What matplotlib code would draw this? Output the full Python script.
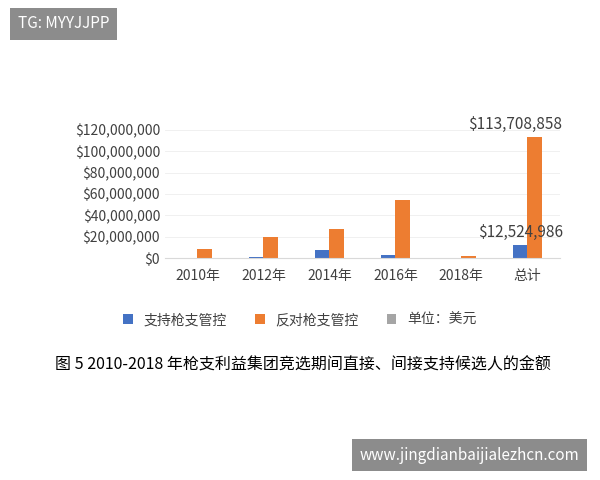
import matplotlib.pyplot as plt
import numpy as np
from matplotlib.ticker import FuncFormatter

plt.rcParams['font.family'] = ['Noto Sans CJK SC', 'DejaVu Sans']

categories = ["2010年", "2012年", "2014年", "2016年", "2018年", "总计"]
support = [100000, 600000, 7500000, 3000000, 100000, 12524986]
oppose = [8500000, 20000000, 27500000, 54000000, 1500000, 113708858]

fig = plt.figure(figsize=(6, 4.8), dpi=100)
ax = fig.add_axes([0.275, 0.4625, 0.658, 0.267])
x = np.arange(len(categories))
w = 0.22
ax.bar(x - w / 2, support, w, color="#4472C4", label="支持枪支管控")
ax.bar(x + w / 2, oppose, w, color="#ED7D31", label="反对枪支管控")
ax.bar([0], [0], w, color="#A5A5A5", label="单位：美元")
ax.set_ylim(0, 120000000)
ax.set_yticks(np.arange(0, 120000001, 20000000))
ax.yaxis.set_major_formatter(FuncFormatter(lambda v, p: f"${v:,.0f}"))
ax.set_xticks(x)
ax.set_xticklabels(categories)
ax.tick_params(length=0, labelsize=10, colors="#404040")
ax.tick_params(axis="x", pad=8)
for s in ["top", "right", "left"]:
    ax.spines[s].set_visible(False)
ax.spines["bottom"].set_color("#d9d9d9")
ax.grid(axis="y", color="#eeeeee", lw=0.6)
ax.set_axisbelow(True)
ax.text(x[-1] - w / 2, support[-1] + 3e6, f"${support[-1]:,}", ha="center", va="bottom", fontsize=11, color="#404040")
ax.text(x[-1] + w / 2 - 0.3, oppose[-1] + 3e6, f"${oppose[-1]:,}", ha="center", va="bottom", fontsize=11, color="#404040")
fig.legend(loc="center", bbox_to_anchor=(0.5, 0.333), ncol=3, frameon=False, fontsize=10,
           handlelength=0.7, handleheight=0.7, labelcolor="#404040")

fig.text(0.505, 0.23, "图 5 2010-2018 年枪支利益集团竞选期间直接、间接支持候选人的金额", ha="center", fontsize=11.5)
fig.text(0.03, 0.95, "TG: MYYJJPP", color="white", fontsize=11, va="center",
         bbox=dict(boxstyle="square,pad=0.5", fc="#8c8c8c", ec="none"))
fig.text(0.6, 0.052, "www.jingdianbaijialezhcn.com", color="white", fontsize=11, va="center",
         bbox=dict(boxstyle="square,pad=0.5", fc="#8c8c8c", ec="none"))
fig.savefig("out.png")
